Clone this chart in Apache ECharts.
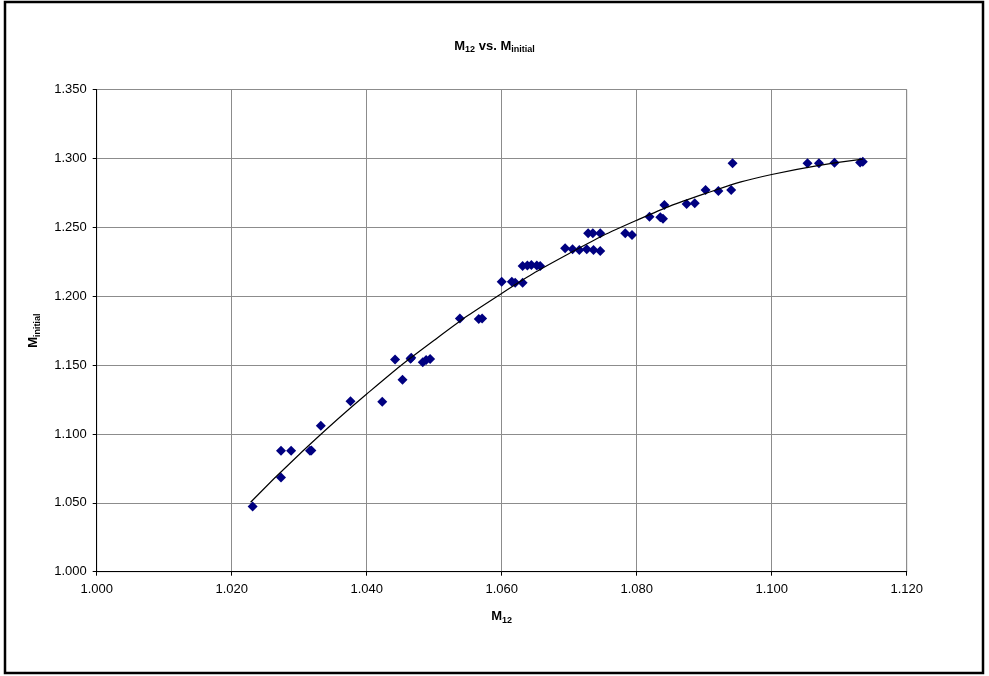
<!DOCTYPE html>
<html>
<head>
<meta charset="utf-8">
<title>M12 vs. Minitial</title>
<script src="https://cdn.jsdelivr.net/npm/echarts@6/dist/echarts.min.js"></script>
<style>
  html, body { margin: 0; padding: 0; background: #fff; }
  #chart { width: 989px; height: 676px; }
</style>
</head>
<body>
<div id="chart"></div>
<script>
var m12 = [
  1.0231, 1.0273, 1.0273, 1.0288, 1.0316, 1.0318, 1.0332, 1.0376, 1.0423, 1.0442,
  1.0453, 1.0465, 1.0466, 1.0483, 1.0488, 1.0494, 1.0538, 1.0566, 1.0571, 1.0600,
  1.0615, 1.0620, 1.0631, 1.0631, 1.0638, 1.0644, 1.0652, 1.0657, 1.0694, 1.0705,
  1.0715, 1.0726, 1.0736, 1.0746, 1.0728, 1.0735, 1.0746, 1.0783, 1.0793, 1.0819,
  1.0835, 1.0839, 1.0841, 1.0874, 1.0886, 1.0902, 1.0921, 1.0940, 1.0942, 1.1053,
  1.1070, 1.1093, 1.1131, 1.1135
];
var mInitial = [
  1.0473, 1.0683, 1.0877, 1.0877, 1.0877, 1.0880, 1.1060, 1.1237, 1.1234, 1.1541,
  1.1394, 1.1546, 1.1553, 1.1520, 1.1537, 1.1544, 1.1838, 1.1834, 1.1838, 1.2104,
  1.2104, 1.2097, 1.2097, 1.2218, 1.2223, 1.2227, 1.2223, 1.2218, 1.2348, 1.2340,
  1.2335, 1.2340, 1.2335, 1.2328, 1.2456, 1.2456, 1.2456, 1.2456, 1.2444, 1.2577,
  1.2572, 1.2562, 1.2662, 1.2669, 1.2674, 1.2771, 1.2763, 1.2771, 1.2964, 1.2964,
  1.2964, 1.2968, 1.2970, 1.2975
];

// trendline, sampled along the drawn curve
var trendX = [1.0228, 1.030, 1.040, 1.050, 1.060, 1.070, 1.080, 1.090, 1.100, 1.1135];
var trendY = [1.0504, 1.0851, 1.1290, 1.1680, 1.2020, 1.2310, 1.2551, 1.2742, 1.2883, 1.2995];

var font = '"Liberation Sans", Arial, sans-serif';

var pts = [];
for (var i = 0; i < m12.length; i++) {
  pts.push([m12[i], mInitial[i]]);
}
var trend = [];
for (var j = 0; j < trendX.length; j++) {
  trend.push([trendX[j], trendY[j]]);
}

// bold text with subscripts
var rich = {
  b: { fontFamily: font, fontWeight: 'bold', fontSize: 13, color: '#000', lineHeight: 16 },
  s: { fontFamily: font, fontWeight: 'bold', fontSize: 9, color: '#000', lineHeight: 16, padding: [7, 0, 0, 0] }
};

var myChart = echarts.init(document.getElementById('chart'));
var option = {
  backgroundColor: '#fff',
  animation: false,
  title: {
    text: '{b|M}{s|12}{b| vs. M}{s|initial}',
    left: 'center',
    top: 33,
    textStyle: { rich: rich }
  },
  graphic: [{
    type: 'rect',
    shape: { x: 5, y: 2, width: 978, height: 671 },
    style: { fill: null, stroke: '#000', lineWidth: 2.5 },
    silent: true
  }],
  grid: {
    left: 96.7,
    right: 82.3,
    top: 89.5,
    bottom: 104.3,
    show: true,
    borderColor: '#8c8c8c',
    borderWidth: 1,
    backgroundColor: '#fff'
  },
  xAxis: {
    type: 'value',
    min: 1.0,
    max: 1.12,
    interval: 0.02,
    name: '{b|M}{s|12}',
    nameLocation: 'middle',
    nameGap: 37,
    nameTextStyle: { rich: rich },
    axisLine: { show: true, onZero: false, lineStyle: { color: '#000', width: 1 } },
    axisTick: { show: true, inside: false, length: 4, lineStyle: { color: '#000' } },
    axisLabel: {
      margin: 11,
      fontFamily: font,
      fontSize: 13,
      color: '#000',
      formatter: function (v) { return v.toFixed(3); }
    },
    splitLine: { show: true, lineStyle: { color: '#8c8c8c', width: 1 } }
  },
  yAxis: {
    type: 'value',
    min: 1.0,
    max: 1.35,
    interval: 0.05,
    name: '{b|M}{s|initial}',
    nameLocation: 'middle',
    nameGap: 55,
    nameRotate: 90,
    nameTextStyle: { rich: rich },
    axisLine: { show: true, onZero: false, lineStyle: { color: '#000', width: 1 } },
    axisTick: { show: true, inside: false, length: 4, lineStyle: { color: '#000' } },
    axisLabel: {
      margin: 10,
      fontFamily: font,
      fontSize: 13,
      color: '#000',
      formatter: function (v) { return v.toFixed(3); }
    },
    splitLine: { show: true, lineStyle: { color: '#8c8c8c', width: 1 } }
  },
  series: [{
    name: 'data',
    type: 'scatter',
    symbol: 'diamond',
    symbolSize: 10,
    itemStyle: { color: '#000080', opacity: 1 },
    data: pts
  }, {
    name: 'trend',
    type: 'line',
    smooth: true,
    symbol: 'none',
    lineStyle: { color: '#000', width: 1.2 },
    data: trend,
    z: 3
  }]
};

myChart.setOption(option);
</script>
</body>
</html>
